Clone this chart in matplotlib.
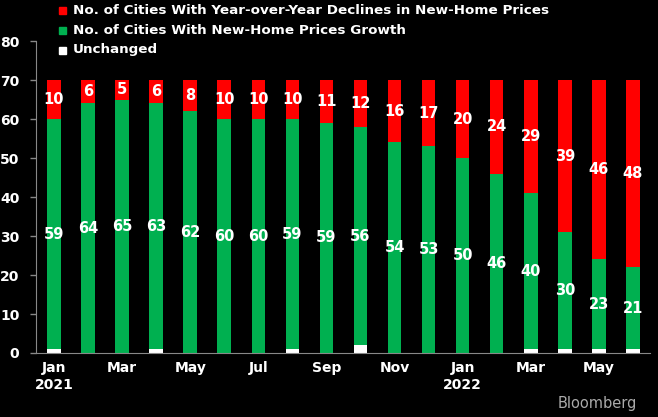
import numpy as np
import matplotlib.pyplot as plt
from matplotlib.patches import Rectangle

months = ['Jan\n2021', 'Feb', 'Mar', 'Apr', 'May', 'Jun', 'Jul', 'Aug', 'Sep', 'Oct', 'Nov', 'Dec',
          'Jan\n2022', 'Feb', 'Mar', 'Apr', 'May', 'Jun']
unchanged = [1, 0, 0, 1, 0, 0, 0, 1, 0, 2, 0, 0, 0, 0, 1, 1, 1, 1]
growth = [59, 64, 65, 63, 62, 60, 60, 59, 59, 56, 54, 53, 50, 46, 40, 30, 23, 21]
declines = [10, 6, 5, 6, 8, 10, 10, 10, 11, 12, 16, 17, 20, 24, 29, 39, 46, 48]

RED = '#ff0000'
GREEN = '#00b050'

fig = plt.figure(figsize=(6.58, 4.17), dpi=100, facecolor='black')
ax = fig.add_axes([0.0547, 0.1535, 0.933, 0.748])
ax.set_facecolor('black')

x = np.arange(len(months))
unchanged = np.array(unchanged)
growth = np.array(growth)
declines = np.array(declines)

w = 0.4
ax.bar(x, unchanged, width=w, color='white')
ax.bar(x, growth, width=w, bottom=unchanged, color=GREEN)
ax.bar(x, declines, width=w, bottom=unchanged + growth, color=RED)

# value labels in the middle of each segment
for i in range(len(x)):
    ax.text(x[i], unchanged[i] + growth[i] / 2, str(growth[i]), ha='center', va='center',
            color='white', fontsize=10.5, fontweight='bold')
    ax.text(x[i], unchanged[i] + growth[i] + declines[i] / 2, str(declines[i]), ha='center',
            va='center', color='white', fontsize=10.5, fontweight='bold')

ax.set_xlim(-0.53, 17.5)
ax.set_ylim(0, 80)
ax.set_yticks(range(0, 81, 10))
ax.set_xticks(x[::2])
ax.set_xticklabels(months[::2])
ax.tick_params(axis='y', colors='#888888', labelcolor='white', length=4, width=1, labelsize=10, pad=8)
ax.tick_params(axis='x', length=0, labelcolor='white', labelsize=10, pad=6)
for lab in ax.get_xticklabels() + ax.get_yticklabels():
    lab.set_fontweight('bold')
for s in ['top', 'right']:
    ax.spines[s].set_visible(False)
ax.spines['left'].set_color('#888888')
ax.spines['bottom'].set_color('#888888')

# legend
leg_items = [(RED, 'No. of Cities With Year-over-Year Declines in New-Home Prices'),
             (GREEN, 'No. of Cities With New-Home Prices Growth'),
             ('white', 'Unchanged')]
for k, (c, t) in enumerate(leg_items):
    y = 1 - (11 + 19.5 * k) / 417
    fig.patches.append(Rectangle((59 / 658, y - 3.5 / 417), 7 / 658, 7 / 417, color=c,
                                 transform=fig.transFigure, figure=fig))
    fig.text(73 / 658, y, t, color='white', fontsize=9.7, fontweight='bold', va='center')

fig.text(0.968, 0.015, 'Bloomberg', color='#aaaaaa', fontsize=10.5, ha='right', va='bottom')

fig.savefig('out.png', dpi=100, facecolor='black')
